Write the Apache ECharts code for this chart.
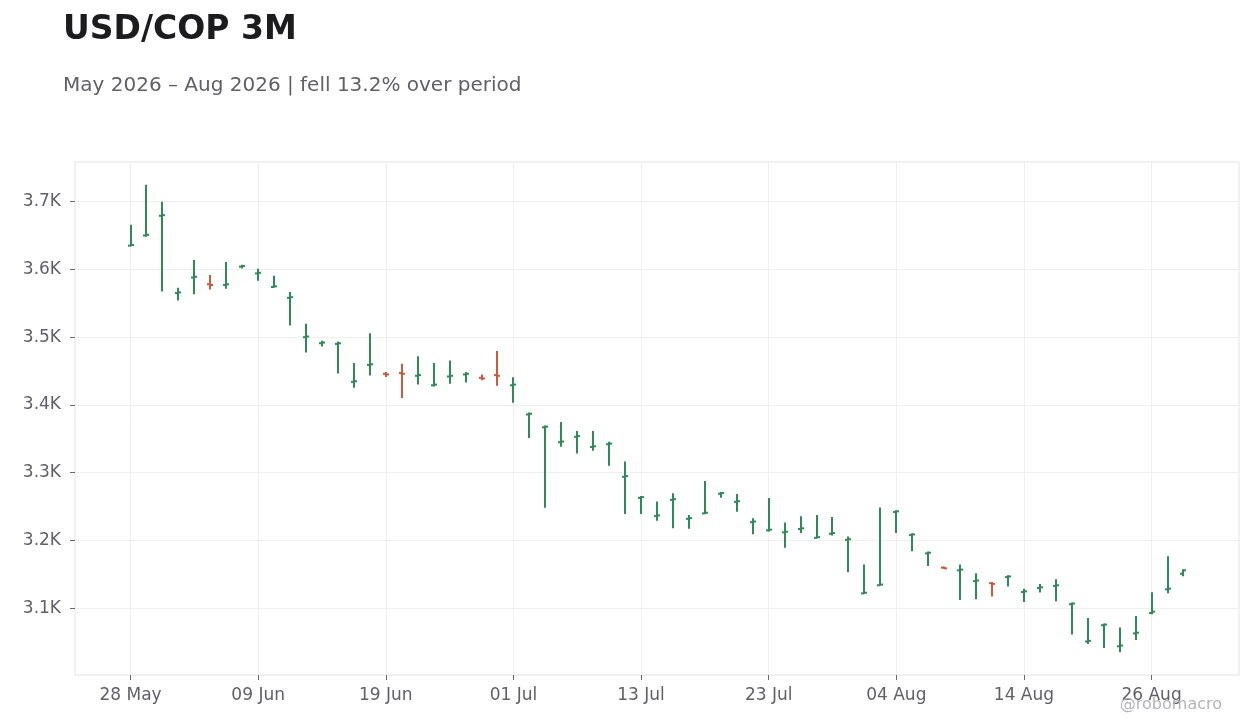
<!DOCTYPE html>
<html>
<head>
<meta charset="utf-8">
<title>USD/COP 3M</title>
<script src="https://cdn.jsdelivr.net/npm/echarts@6/dist/echarts.min.js"></script>
<style>
  html, body { margin: 0; padding: 0; background: #fff; }
  #chart { width: 1260px; height: 728px; }
</style>
</head>
<body>
<div id="chart"></div>
<script>
// business days, one OHLC bar each
const dates = [
  '2026-05-28', '2026-05-29',
  '2026-06-01', '2026-06-02', '2026-06-03', '2026-06-04', '2026-06-05',
  '2026-06-08', '2026-06-09', '2026-06-10', '2026-06-11', '2026-06-12',
  '2026-06-15', '2026-06-16', '2026-06-17', '2026-06-18', '2026-06-19',
  '2026-06-22', '2026-06-23', '2026-06-24', '2026-06-25', '2026-06-26',
  '2026-06-29', '2026-06-30',
  '2026-07-01', '2026-07-02', '2026-07-03',
  '2026-07-06', '2026-07-07', '2026-07-08', '2026-07-09', '2026-07-10',
  '2026-07-13', '2026-07-14', '2026-07-15', '2026-07-16', '2026-07-17',
  '2026-07-20', '2026-07-21', '2026-07-22', '2026-07-23', '2026-07-24',
  '2026-07-27', '2026-07-28', '2026-07-29', '2026-07-30', '2026-07-31',
  '2026-08-03', '2026-08-04', '2026-08-05', '2026-08-06', '2026-08-07',
  '2026-08-10', '2026-08-11', '2026-08-12', '2026-08-13', '2026-08-14',
  '2026-08-17', '2026-08-18', '2026-08-19', '2026-08-20', '2026-08-21',
  '2026-08-24', '2026-08-25', '2026-08-26', '2026-08-27', '2026-08-28'
];

const open = [
  3635, 3650, 3679, 3565, 3588, 3578, 3577, 3604, 3594, 3574,
  3558, 3500, 3491, 3490, 3434, 3459, 3446, 3447, 3443, 3429,
  3442, 3445, 3440, 3444, 3429, 3386, 3367, 3345, 3353, 3338,
  3342, 3294, 3263, 3236, 3260, 3232, 3240, 3269, 3257, 3227,
  3215, 3212, 3217, 3204, 3210, 3201, 3122, 3134, 3242, 3208,
  3181, 3160, 3156, 3140, 3137, 3146, 3124, 3130, 3133, 3106,
  3051, 3075, 3044, 3063, 3093, 3128, 3151
];
const close = [
  3636, 3651, 3680, 3566, 3589, 3577, 3578, 3605, 3595, 3575,
  3559, 3501, 3492, 3491, 3435, 3460, 3445, 3446, 3444, 3430,
  3443, 3446, 3439, 3443, 3430, 3387, 3368, 3346, 3354, 3339,
  3343, 3295, 3264, 3237, 3261, 3233, 3241, 3270, 3258, 3228,
  3216, 3213, 3218, 3205, 3211, 3202, 3123, 3135, 3243, 3209,
  3182, 3159, 3157, 3141, 3136, 3147, 3125, 3131, 3134, 3107,
  3052, 3076, 3045, 3064, 3095, 3129, 3156
];
const high = [
  3665, 3724, 3699, 3572, 3613, 3591, 3610, 3606, 3600, 3590,
  3566, 3519, 3494, 3493, 3461, 3505, 3448, 3460, 3471, 3461,
  3465, 3448, 3444, 3479, 3440, 3388, 3369, 3374, 3361, 3361,
  3345, 3316, 3265, 3257, 3269, 3237, 3287, 3271, 3268, 3232,
  3262, 3226, 3235, 3237, 3234, 3205, 3164, 3248, 3244, 3210,
  3183, 3161, 3164, 3151, 3138, 3148, 3128, 3135, 3142, 3108,
  3085, 3077, 3071, 3088, 3123, 3176, 3157
];
const low = [
  3635, 3649, 3568, 3555, 3564, 3571, 3572, 3602, 3584, 3574,
  3518, 3478, 3487, 3447, 3426, 3444, 3442, 3411, 3431, 3428,
  3432, 3434, 3437, 3429, 3404, 3352, 3249, 3339, 3329, 3333,
  3311, 3240, 3240, 3230, 3219, 3218, 3240, 3264, 3243, 3210,
  3214, 3190, 3212, 3204, 3208, 3154, 3122, 3134, 3212, 3185,
  3163, 3159, 3113, 3114, 3118, 3133, 3110, 3124, 3111, 3062,
  3048, 3042, 3036, 3054, 3092, 3123, 3148
];

// x ticks every 8 business days, y ticks every 100
const xTicks = [0, 8, 16, 24, 32, 40, 48, 56, 64];
const yTicks = [3100, 3200, 3300, 3400, 3500, 3600, 3700];

const UP = '#2e8b57';
const DOWN = '#cb5a3a';
const FONT = 'DejaVu Sans';
const MONTHS = ['Jan', 'Feb', 'Mar', 'Apr', 'May', 'Jun', 'Jul', 'Aug', 'Sep', 'Oct', 'Nov', 'Dec'];

const fmtDate = (i) => {
  const d = dates[Math.round(i)];
  if (!d) return '';
  const [, m, day] = d.split('-');
  return day + ' ' + MONTHS[parseInt(m, 10) - 1];
};

const bars = dates.map((d, i) => [i, open[i], close[i], low[i], high[i]]);

const chart = echarts.init(document.getElementById('chart'));

chart.setOption({
  animation: false,
  backgroundColor: '#ffffff',
  textStyle: { fontFamily: FONT },
  title: [
    {
      text: 'USD/COP 3M',
      left: 63,
      top: 14,
      padding: 0,
      textStyle: { fontFamily: FONT, fontSize: 33, fontWeight: 'bold', color: '#1c1c1f' }
    },
    {
      text: 'May 2026 – Aug 2026 | fell 13.2% over period',
      left: 63,
      top: 76,
      padding: 0,
      textStyle: { fontFamily: FONT, fontSize: 20, fontWeight: 'normal', color: '#5f6168' }
    },
    {
      text: '@robomacro',
      right: 38,
      top: 697,
      padding: 0,
      textStyle: { fontFamily: FONT, fontSize: 16, fontWeight: 'normal', color: '#b4b4b8' }
    }
  ],
  grid: {
    left: 75,
    right: 21,
    top: 162,
    bottom: 53,
    show: true,
    borderColor: '#e3e3e3',
    borderWidth: 1,
    backgroundColor: 'transparent'
  },
  xAxis: {
    type: 'value',
    min: -3.48,
    max: 69.48,
    axisLine: { show: false, onZero: false },
    axisTick: {
      show: true,
      length: 5,
      customValues: xTicks,
      lineStyle: { color: '#6a6a6a' }
    },
    axisLabel: {
      customValues: xTicks,
      margin: 12,
      fontFamily: FONT,
      fontSize: 17,
      color: '#5f6168',
      formatter: (v) => fmtDate(v)
    },
    splitLine: { show: true, lineStyle: { color: '#efefef', width: 1 } }
  },
  yAxis: {
    type: 'value',
    min: 3001.6,
    max: 3758.4,
    axisLine: { show: false, onZero: false },
    axisTick: {
      show: true,
      length: 5,
      customValues: yTicks,
      lineStyle: { color: '#6a6a6a' }
    },
    axisLabel: {
      customValues: yTicks,
      margin: 14,
      fontFamily: FONT,
      fontSize: 17,
      color: '#5f6168',
      formatter: (v) => (v / 1000).toFixed(1) + 'K'
    },
    splitLine: { show: true, lineStyle: { color: '#efefef', width: 1 } }
  },
  series: [
    {
      type: 'custom',
      clip: true,
      encode: { x: 0, y: [1, 2, 3, 4] },
      data: bars,
      renderItem: (params, api) => {
        const i = api.value(0);
        const o = api.coord([i, api.value(1)]);
        const c = api.coord([i, api.value(2)]);
        const lo = api.coord([i, api.value(3)]);
        const hi = api.coord([i, api.value(4)]);
        const color = api.value(2) >= api.value(1) ? UP : DOWN;
        const style = { stroke: color, lineWidth: 2, lineCap: 'butt' };
        const x = Math.round(o[0]);
        const t = 3;
        return {
          type: 'group',
          children: [
            { type: 'line', shape: { x1: x, y1: hi[1] - 0.5, x2: x, y2: lo[1] + 0.5 }, style },
            { type: 'line', shape: { x1: x - t, y1: o[1], x2: x, y2: o[1] }, style },
            { type: 'line', shape: { x1: x, y1: c[1], x2: x + t, y2: c[1] }, style }
          ]
        };
      }
    }
  ]
});

window.addEventListener('resize', () => chart.resize());
</script>
</body>
</html>
